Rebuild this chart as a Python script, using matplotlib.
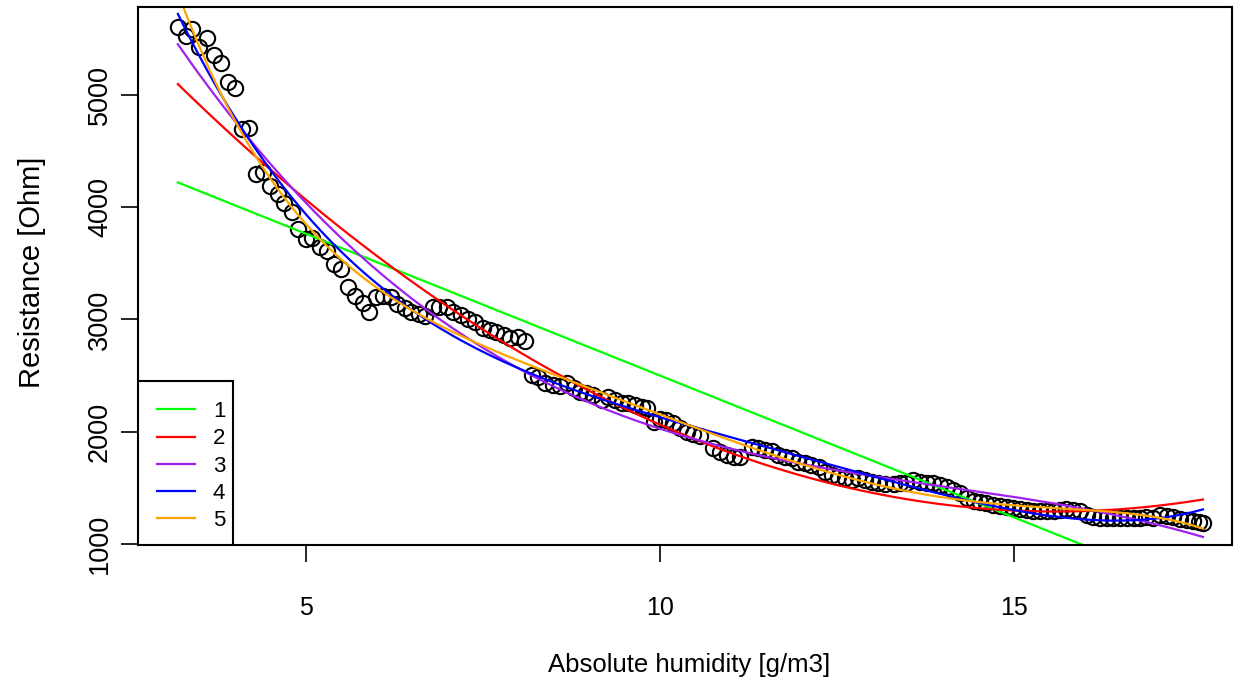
import numpy as np
import matplotlib
matplotlib.use("Agg")
import matplotlib.pyplot as plt
from matplotlib.patches import Rectangle

# Observed data: absolute humidity [g/m3] vs resistance [Ohm]
humidity = [
    3.19, 3.30, 3.39, 3.49, 3.60, 3.70, 3.80, 3.90, 4.00, 4.10,
    4.19, 4.29, 4.39, 4.49, 4.60, 4.69, 4.80, 4.89, 5.00, 5.09,
    5.20, 5.29, 5.40, 5.49, 5.59, 5.69, 5.80, 5.89, 5.99, 6.09,
    6.20, 6.29, 6.40, 6.49, 6.60, 6.68, 6.79, 6.88, 6.99, 7.08,
    7.19, 7.29, 7.39, 7.50, 7.60, 7.69, 7.79, 7.88, 8.00, 8.09,
    8.19, 8.28, 8.38, 8.49, 8.59, 8.68, 8.78, 8.87, 8.96, 9.06,
    9.18, 9.27, 9.36, 9.46, 9.55, 9.65, 9.74, 9.81, 9.91, 10.00,
    10.09, 10.19, 10.28, 10.38, 10.47, 10.56, 10.75, 10.85, 10.94, 11.04,
    11.13, 11.30, 11.39, 11.48, 11.58, 11.67, 11.77, 11.86, 11.95, 12.05,
    12.14, 12.24, 12.33, 12.43, 12.52, 12.61, 12.71, 12.80, 12.90, 12.99,
    13.08, 13.18, 13.30, 13.39, 13.48, 13.58, 13.67, 13.77, 13.86, 13.95,
    14.05, 14.14, 14.24, 14.33, 14.43, 14.52, 14.61, 14.71, 14.80, 14.90,
    14.99, 15.08, 15.18, 15.27, 15.37, 15.46, 15.56, 15.65, 15.74, 15.84,
    15.93, 16.03, 16.12, 16.21, 16.31, 16.40, 16.50, 16.59, 16.69, 16.78,
    16.87, 16.97, 17.06, 17.16, 17.25, 17.34, 17.44, 17.53, 17.61, 17.67,
]
resistance = [
    5607, 5526, 5583, 5429, 5503, 5355, 5281, 5117, 5058, 4696,
    4702, 4295, 4315, 4188, 4114, 4039, 3959, 3802, 3713, 3728,
    3642, 3612, 3493, 3446, 3286, 3208, 3149, 3069, 3197, 3208,
    3202, 3137, 3099, 3069, 3048, 3030, 3113, 3108, 3113, 3069,
    3039, 3004, 2980, 2921, 2906, 2891, 2861, 2832, 2846, 2808,
    2505, 2484, 2431, 2416, 2407, 2431, 2387, 2356, 2342, 2327,
    2282, 2312, 2282, 2258, 2253, 2238, 2223, 2208, 2089, 2110,
    2104, 2075, 2030, 1997, 1980, 1962, 1852, 1822, 1793, 1772,
    1777, 1866, 1852, 1837, 1831, 1793, 1777, 1763, 1733, 1719,
    1703, 1683, 1644, 1614, 1599, 1585, 1570, 1585, 1570, 1555,
    1541, 1532, 1539, 1548, 1546, 1570, 1555, 1546, 1541, 1525,
    1510, 1481, 1451, 1407, 1386, 1377, 1362, 1347, 1338, 1327,
    1318, 1309, 1303, 1297, 1297, 1297, 1297, 1303, 1309, 1303,
    1297, 1258, 1243, 1229, 1229, 1229, 1232, 1229, 1229, 1229,
    1238, 1229, 1258, 1249, 1238, 1220, 1214, 1207, 1199, 1184,
]

degrees = [1, 2, 3, 4, 5]
fit_colors = ["#00FF00", "#FF0000", "#A020F0", "#0000FF", "#FFA500"]
legend_labels = ["1", "2", "3", "4", "5"]

x = np.array(humidity)
y = np.array(resistance)

plt.rcParams["font.family"] = ["Liberation Sans", "DejaVu Sans"]

W, H = 1245, 683
ax_l, ax_r, ax_t, ax_b = 138, 1232, 7, 545
fig = plt.figure(figsize=(W / 100, H / 100), dpi=100)
ax = fig.add_axes([ax_l / W, 1 - ax_b / H, (ax_r - ax_l) / W, (ax_b - ax_t) / H])

ax.plot(x, y, linestyle="none", marker="o", markersize=11,
        markerfacecolor="none", markeredgecolor="black", markeredgewidth=1.5)

handles = []
for d, c, lab in zip(degrees, fit_colors, legend_labels):
    p = np.polynomial.Polynomial.fit(x, y, d)
    h, = ax.plot(x, p(x), color=c, linewidth=1.6, label=lab)
    handles.append(h)

ax.set_xlim(2.627, 18.08)
ax.set_ylim(992, 5782)
ax.set_xticks([5, 10, 15])
ax.set_yticks([1000, 2000, 3000, 4000, 5000])

for s in ax.spines.values():
    s.set_linewidth(1.5)
    s.set_color("black")

ax.tick_params(axis="x", length=12, width=1.2, pad=25, labelsize=18)
ax.tick_params(axis="y", length=12, width=1.2, pad=6, labelsize=19.5)
for lbl in ax.get_yticklabels():
    lbl.set_rotation(90)
    lbl.set_va("center")

ax.set_xlabel("Absolute humidity [g/m3]", fontsize=18.5)
ax.xaxis.label.set_va("center")
ax.xaxis.set_label_coords(0.504, -0.223)
ax.set_ylabel("Resistance [Ohm]", fontsize=21)
ax.yaxis.label.set_va("center")
ax.yaxis.set_label_coords(-0.097, 0.507)

# legend box (R-style, tight on the right)
box_w = (233 - ax_l) / (ax_r - ax_l)
box_h = (ax_b - 381) / (ax_b - ax_t)
ax.add_patch(Rectangle((0, 0), box_w, box_h, transform=ax.transAxes,
                       facecolor="white", edgecolor="black", linewidth=1.5,
                       zorder=4))
leg = ax.legend(handles=handles, loc="lower left",
                bbox_to_anchor=(5 / (ax_r - ax_l), 0.0), borderaxespad=0,
                fontsize=16, handlelength=1.71, handletextpad=0.8,
                labelspacing=0.28, borderpad=0.63, frameon=False)
leg.set_zorder(5)

fig.savefig("out.png", dpi=100)
